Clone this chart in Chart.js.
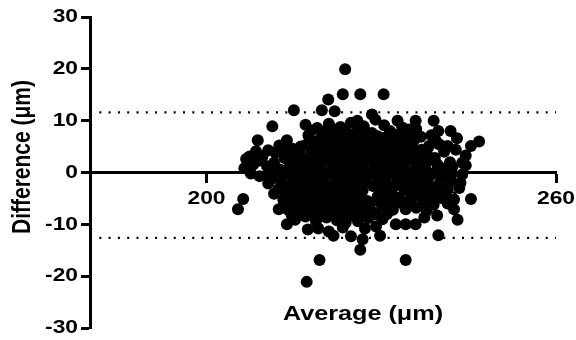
<!DOCTYPE html>
<html>
<head>
<meta charset="utf-8">
<script src="https://cdn.jsdelivr.net/npm/chart.js@4"></script>
<style>
  html, body { margin: 0; padding: 0; background: #fff; }
  #wrap { width: 576px; height: 340px; }
</style>
</head>
<body>
<div id="wrap"><canvas id="baChart"></canvas></div>
<script>
// Bland-Altman: average vs difference (µm)
const xTitle = "Average (\u03bcm)";
const yTitle = "Difference (\u03bcm)";
const xTicks = [200, 220, 240, 260];
const yTicks = [-30, -20, -10, 0, 10, 20, 30];
const upperLimit = 11.6;
const lowerLimit = -12.6;

// points, [average, difference]
const upperPoints = [
  [223.8, 19.9], [223.4, 15.1], [226.4, 15.1], [230.4, 15.1], [215.0, 12.0], [220.9, 14.1],
  [219.8, 12.0], [222.0, 11.8], [211.3, 8.9], [208.8, 6.2], [213.8, 6.2], [207.4, 3.1],
  [211.8, 3.8], [208.0, 1.5], [208.5, 4.1], [216.2, 5.0], [225.9, 10.0], [228.4, 11.2],
  [229.0, 10.2], [232.8, 10.0], [235.9, 10.0], [239.0, 10.0], [239.8, 8.0], [241.9, 8.0],
  [234.8, 8.3], [227.4, 7.0], [229.4, 7.0], [232.2, 7.0], [238.2, 5.1], [241.4, 5.1],
  [239.2, 2.8], [241.8, 2.0], [246.8, 6.0], [245.4, 5.1], [244.5, 3.3], [243.9, 1.9],
  [244.5, 1.4], [237.8, 0.3], [235.6, 7.0]
];
const lowerPoints = [
  [206.3, -5.1], [205.4, -7.1], [209.1, -0.7], [210.5, -0.7], [212.4, -7.1], [213.8, -10.0],
  [217.4, -11.0], [219.4, -16.9], [217.2, -21.1], [221.8, -12.2], [224.8, -12.3], [226.4, -14.9],
  [226.8, -12.9], [229.8, -12.2], [234.2, -16.9], [239.8, -12.1], [232.5, -10.0], [234.2, -10.0],
  [235.9, -10.0], [239.6, -8.3], [243.1, -9.1], [245.4, -5.1], [242.5, -7.1], [242.5, -5.2],
  [243.9, -0.4], [243.6, -2.0], [243.4, -3.0], [229.1, -10.4], [223.9, -9.7], [234.2, -7.1]
];
const corePoints = [
  [217, 9.2], [219, 8.6], [221, 9.4], [223, 8.8], [224.8, 9.6], [227, 8.9], [230.5, 9.1], [233.6, 8.7], [236, 8.4],
  [218, 8.1], [220, 7.9], [222.2, 8.3], [224, 7.8], [226, 8.2], [231.5, 8.0], [233.8, 7.8],
  [217.5, 7.2], [219.6, 6.6], [221.4, 7.4], [223.2, 6.8], [225, 7.3], [226.8, 6.5], [228.4, 7.6], [230.6, 6.7],
  [232.8, 7.3], [234.4, 6.4], [236.8, 6.9], [238.6, 7.2], [243, 6.6],
  [218.6, 5.9], [220.4, 6.2], [222.4, 5.8], [224.6, 6.1], [226.4, 5.9], [228.2, 6.2], [230, 5.8], [231.8, 6.1],
  [233.8, 5.9], [235.6, 6.2], [239.4, 6.1],
  [212.5, 5.2], [214.8, 4.6], [217.2, 5.4], [219, 4.8], [220.8, 5.3], [222.6, 4.5], [224.2, 5.1], [226, 4.7],
  [227.9, 5.4], [229.6, 4.6], [231.4, 5.2], [233.2, 4.8], [235, 5.5], [236.9, 4.4], [240, 5.4], [242.8, 4.4],
  [210.6, 4.3], [213.8, 4.0], [216, 3.8], [218, 4.1], [219.8, 3.9], [221.6, 4.2], [223.4, 3.8], [225.2, 4.1],
  [227, 3.9], [228.8, 4.2], [230.6, 3.8], [232.4, 4.1], [234.2, 3.9], [236, 4.2], [237.8, 3.9], [240.8, 4.0],
  [206.8, 2.6], [209.6, 3.1], [213.4, 2.8], [215.2, 3.4], [217, 2.6], [218.8, 3.2], [220.6, 2.5], [222.3, 3.3],
  [224, 2.7], [225.8, 3.5], [227.6, 2.6], [229.4, 3.1], [231.2, 2.4], [233, 3.3], [234.8, 2.7], [236.6, 3.4], [238.4, 2.5],
  [208.8, 2.2], [211.6, 1.9], [214.2, 2.1], [216, 1.8], [217.8, 2.2], [219.6, 1.9], [221.4, 2.1], [223.2, 1.8],
  [225, 2.2], [226.8, 1.9], [228.6, 2.1], [230.4, 1.8], [232.2, 2.2], [234, 1.9], [235.8, 2.1], [237.6, 1.8], [239.6, 1.6],
  [206.5, 0.8], [210.4, 1.2], [212.6, 0.6], [214.4, 1.4], [216.2, 0.7], [218, 1.3], [219.8, 0.5], [221.6, 1.2],
  [223.4, 0.8], [225.2, 1.5], [227, 0.6], [228.8, 1.3], [230.6, 0.7], [232.4, 1.4], [234.2, 0.5], [236, 1.2],
  [240.2, 0.9], [242.2, 1.1],
  [207.6, -0.2], [211.8, 0.2], [213.8, -0.1], [215.6, 0.2], [217.4, -0.2], [219.2, 0.1], [221, -0.1], [222.8, 0.2],
  [224.6, -0.2], [226.4, 0.1], [228.2, -0.1], [230, 0.2], [231.8, -0.2], [233.6, 0.1], [235.4, -0.1], [237.2, 0.1],
  [239.2, -0.1], [241.2, 0.2],
  [211.2, -1.2], [213.2, -0.6], [215, -1.4], [216.8, -0.8], [218.6, -1.3], [220.4, -0.5], [222.2, -1.2], [224, -0.7],
  [225.8, -1.5], [227.6, -0.6], [229.4, -1.1], [231.2, -0.4], [233, -1.3], [234.8, -0.8], [236.6, -1.4], [238.4, -0.6],
  [240.4, -1.2], [242, -0.5],
  [210.6, -2.1], [212.8, -1.8], [214.6, -2.2], [216.4, -1.9], [218.2, -2.1], [220, -1.8], [221.8, -2.2], [223.6, -1.9],
  [225.4, -2.1], [227.2, -1.8], [229, -2.2], [230.8, -1.9], [232.6, -2.1], [234.4, -1.8], [236.2, -2.2], [238, -1.9],
  [240, -2.1], [242, -1.8],
  [212.4, -3.2], [214.2, -2.6], [216, -3.4], [217.8, -2.7], [219.6, -3.3], [221.4, -2.5], [223.2, -3.1], [225, -2.8],
  [226.8, -3.5], [228.6, -2.6], [230.4, -3.2], [232.2, -2.7], [234, -3.4], [235.8, -2.5], [237.6, -3.1], [239.6, -2.8], [241.4, -3.3],
  [211.6, -4.1], [213.6, -3.8], [215.4, -4.2], [217.2, -3.9], [219, -4.1], [220.8, -3.8], [222.6, -4.2], [224.4, -3.9],
  [226.2, -4.1], [229.8, -3.9], [231.6, -4.2], [235.2, -3.8], [237, -4.1], [238.8, -3.9], [241, -4.2],
  [213.2, -5.3], [215, -4.6], [216.8, -5.4], [218.6, -4.8], [220.4, -5.2], [222.2, -4.5], [224, -5.3], [225.8, -4.7],
  [227.6, -5.5], [229.4, -4.6], [231.2, -5.1], [233, -4.8], [234.8, -5.4], [236.6, -4.6], [238.4, -5.2], [240.2, -4.9],
  [213.6, -6.1], [215.4, -5.8], [217.2, -6.2], [219, -5.9], [220.8, -6.1], [222.6, -5.8], [224.4, -6.2], [226.2, -5.9],
  [228, -6.1], [229.8, -5.8], [231.6, -6.2], [233.4, -5.9], [235.2, -6.1], [237.2, -5.9], [239, -6.2], [241.4, -6.0],
  [214, -7.2], [215.8, -6.6], [217.6, -7.4], [219.4, -6.8], [221.2, -7.3], [223, -6.5], [224.8, -7.2], [226.6, -6.7],
  [228.4, -7.5], [230.2, -6.6], [232, -7.2], [236, -6.8], [237.8, -7.4],
  [214.6, -8.1], [216.4, -7.8], [218.2, -8.2], [220, -7.9], [221.8, -8.1], [223.6, -7.8], [225.4, -8.2], [227.2, -7.9],
  [229, -8.1], [231, -8.0],
  [215.2, -9.1], [217, -8.5], [218.8, -9.4], [220.6, -8.7], [222.4, -9.2], [224.2, -8.6], [226, -9.4], [227.8, -8.8],
  [230.2, -9.0], [237.4, -8.7],
  [219.2, -10.8], [221, -11.4], [223.4, -10.6], [227.2, -10.8]
];

const allPoints = upperPoints.concat(corePoints, lowerPoints).map(p => ({ x: p[0], y: p[1] }));
const fontFamily = '"Liberation Sans", Arial, Helvetica, sans-serif';

// the original lettering is a bit wider than Arial, so it is stretched sideways
function wideText(c, txt, x, y, align, rotate) {
  c.save();
  c.translate(x, y);
  c.scale(1.2, 1);
  if (rotate) c.rotate(-Math.PI / 2);
  c.textAlign = align;
  c.fillText(txt, 0, 0);
  c.restore();
}

const tickLabels = {
  id: 'tickLabels',
  beforeDatasetsDraw(chart) {
    const c = chart.ctx, xs = chart.scales.x, ys = chart.scales.y;
    c.save();
    c.fillStyle = '#000';
    c.font = 'bold 19px ' + fontFamily;
    c.textBaseline = 'middle';
    yTicks.forEach(v => wideText(c, String(v), 78, ys.getPixelForValue(v), 'right'));
    xTicks.forEach(v => wideText(c, String(v), xs.getPixelForValue(v), ys.getPixelForValue(0) + 26, 'center'));
    c.restore();
  },
  afterDraw(chart) {
    const c = chart.ctx;
    c.save();
    c.fillStyle = '#000';
    c.font = 'bold 21px ' + fontFamily;
    c.textBaseline = 'middle';
    wideText(c, xTitle, 363, 314, 'center');
    wideText(c, yTitle, 23, 157, 'center', true);
    c.restore();
  }
};

new Chart(document.getElementById('baChart'), {
  type: 'scatter',
  data: {
    datasets: [
      {
        data: allPoints,
        backgroundColor: '#000',
        borderWidth: 0,
        pointRadius: 6,
        order: 1
      },
      {
        type: 'line',
        data: [{ x: 180, y: upperLimit }, { x: 260, y: upperLimit }],
        borderColor: '#000',
        borderWidth: 2.2,
        borderDash: [2, 7.3],
        pointRadius: 0,
        order: 2
      },
      {
        type: 'line',
        data: [{ x: 180, y: lowerLimit }, { x: 260, y: lowerLimit }],
        borderColor: '#000',
        borderWidth: 2.2,
        borderDash: [2, 7.3],
        pointRadius: 0,
        order: 2
      }
    ]
  },
  options: {
    responsive: true,
    maintainAspectRatio: false,
    animation: false,
    layout: { padding: { left: 0, right: 20, top: 17, bottom: 12 } },
    plugins: { legend: { display: false }, tooltip: { enabled: false } },
    scales: {
      x: {
        type: 'linear',
        position: { y: 0 },
        min: 180,
        max: 260,
        afterBuildTicks: s => { s.ticks = [180].concat(xTicks).map(v => ({ value: v })); },
        ticks: { display: false },
        grid: { drawOnChartArea: false, color: '#000', tickLength: 9, tickWidth: 3 },
        border: { color: '#000', width: 3 }
      },
      y: {
        min: -30,
        max: 30,
        afterBuildTicks: s => { s.ticks = yTicks.map(v => ({ value: v })); },
        afterFit: s => { s.width = 90; },
        ticks: { display: false },
        grid: { drawOnChartArea: false, color: '#000', tickLength: 9, tickWidth: 3 },
        border: { color: '#000', width: 3 }
      }
    }
  },
  plugins: [tickLabels]
});
</script>
</body>
</html>
